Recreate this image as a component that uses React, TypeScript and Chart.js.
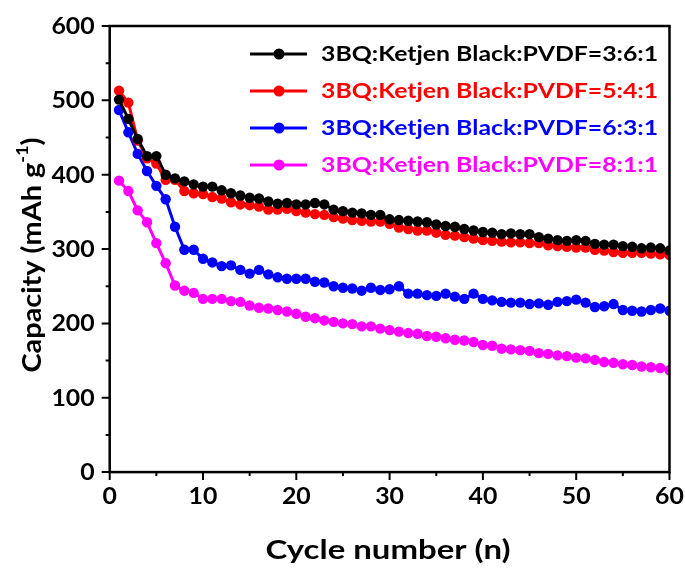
import React, { useEffect, useRef } from "react";
import { Chart, registerables } from "chart.js";

Chart.register(...registerables);

const cycles = [
  1, 2, 3, 4, 5, 6, 7, 8, 9, 10, 11, 12, 13, 14, 15, 16, 17, 18, 19, 20,
  21, 22, 23, 24, 25, 26, 27, 28, 29, 30, 31, 32, 33, 34, 35, 36, 37, 38, 39, 40,
  41, 42, 43, 44, 45, 46, 47, 48, 49, 50, 51, 52, 53, 54, 55, 56, 57, 58, 59, 60,
];

const series361 = [
  501, 475, 448, 425, 425, 400, 395, 391, 387, 384, 384, 379, 375, 372, 369, 368, 364, 361, 362, 360,
  360, 362, 360, 353, 351, 349, 348, 346, 346, 340, 339, 338, 337, 336, 333, 331, 330, 327, 325, 323,
  322, 320, 321, 320, 320, 316, 314, 312, 311, 312, 311, 307, 306, 306, 304, 303, 301, 302, 301, 298,
];

const series541 = [
  513, 497, 446, 422, 415, 393, 393, 378, 375, 374, 370, 368, 363, 360, 359, 357, 353, 353, 354, 351,
  349, 347, 346, 343, 341, 339, 338, 337, 337, 334, 329, 327, 325, 325, 322, 319, 318, 316, 314, 312,
  311, 310, 309, 309, 308, 308, 305, 304, 303, 302, 302, 299, 298, 296, 295, 295, 295, 294, 293, 292,
];

const series631 = [
  487, 457, 428, 405, 385, 367, 330, 299, 299, 287, 282, 277, 278, 272, 267, 272, 266, 262, 260, 260,
  260, 256, 255, 250, 248, 247, 244, 248, 245, 246, 250, 240, 240, 238, 237, 240, 236, 233, 240, 233,
  231, 229, 228, 228, 226, 227, 225, 229, 230, 232, 228, 222, 223, 226, 218, 217, 216, 218, 220, 217,
];

const series811 = [
  392, 378, 352, 336, 308, 281, 251, 244, 241, 233, 233, 233, 230, 229, 224, 221, 220, 218, 216, 213,
  209, 207, 204, 202, 200, 199, 196, 196, 193, 191, 189, 187, 186, 183, 182, 180, 178, 177, 175, 171,
  170, 166, 165, 164, 163, 160, 159, 157, 156, 154, 153, 151, 148, 147, 145, 144, 142, 141, 140, 137,
];

const seriesLabels = [
  "3BQ:Ketjen Black:PVDF=3:6:1",
  "3BQ:Ketjen Black:PVDF=5:4:1",
  "3BQ:Ketjen Black:PVDF=6:3:1",
  "3BQ:Ketjen Black:PVDF=8:1:1",
];
const seriesColors = ["#000000", "#ff0000", "#0000ff", "#ff00ff"];
const allSeries = [series361, series541, series631, series811];

const xMajorTicks = [0, 10, 20, 30, 40, 50, 60];
const xMinorTicks = [5, 15, 25, 35, 45, 55];
const yMajorTicks = [0, 100, 200, 300, 400, 500, 600];
const yMinorTicks = [50, 150, 250, 350, 450, 550];
const xTickLabels = ["0", "10", "20", "30", "40", "50", "60"];
const yTickLabels = ["0", "100", "200", "300", "400", "500", "600"];

const xTitle = "Cycle number (n)";
const yTitleMain = "Capacity (mAh g";
const yTitleSup = "-1";
const yTitleEnd = ")";

const FONT = "Lato, 'Open Sans', sans-serif";

function stretchedText(
  ctx: CanvasRenderingContext2D,
  text: string,
  x: number,
  y: number,
  sx: number,
  align: "left" | "center" | "right"
) {
  const w = ctx.measureText(text).width * sx;
  const left = align === "center" ? x - w / 2 : align === "right" ? x - w : x;
  ctx.save();
  ctx.translate(left, y);
  ctx.scale(sx, 1);
  ctx.textAlign = "left";
  ctx.fillText(text, 0, 0);
  ctx.restore();
}

const decorPlugin = {
  id: "decor",
  afterDraw(chart: any) {
    const { ctx, chartArea: a, scales } = chart;
    const xs = scales.x;
    const ys = scales.y;
    ctx.save();
    ctx.strokeStyle = "#000";
    ctx.lineWidth = 2.5;
    ctx.strokeRect(a.left, a.top, a.right - a.left, a.bottom - a.top);

    ctx.lineWidth = 2;
    ctx.beginPath();
    for (const v of xMajorTicks) {
      const p = xs.getPixelForValue(v);
      ctx.moveTo(p, a.bottom);
      ctx.lineTo(p, a.bottom + 8);
    }
    for (const v of xMinorTicks) {
      const p = xs.getPixelForValue(v);
      ctx.moveTo(p, a.bottom);
      ctx.lineTo(p, a.bottom + 4);
    }
    for (const v of yMajorTicks) {
      const p = ys.getPixelForValue(v);
      ctx.moveTo(a.left, p);
      ctx.lineTo(a.left - 8, p);
    }
    for (const v of yMinorTicks) {
      const p = ys.getPixelForValue(v);
      ctx.moveTo(a.left, p);
      ctx.lineTo(a.left - 4, p);
    }
    ctx.stroke();

    // tick labels
    ctx.fillStyle = "#000";
    ctx.font = `bold 22px ${FONT}`;
    ctx.textBaseline = "middle";
    xMajorTicks.forEach((v, i) => {
      stretchedText(ctx, xTickLabels[i], xs.getPixelForValue(v), a.bottom + 25, 1.13, "center");
    });
    yMajorTicks.forEach((v, i) => {
      stretchedText(ctx, yTickLabels[i], a.left - 15, ys.getPixelForValue(v) + 1, 1.13, "right");
    });

    // legend
    const rowY = [54, 91, 128, 165];
    ctx.font = `bold 20px ${FONT}`;
    ctx.textBaseline = "middle";
    seriesLabels.forEach((lab, i) => {
      const yy = rowY[i];
      ctx.strokeStyle = seriesColors[i];
      ctx.fillStyle = seriesColors[i];
      ctx.lineWidth = 3;
      ctx.beginPath();
      ctx.moveTo(250, yy);
      ctx.lineTo(307, yy);
      ctx.stroke();
      ctx.beginPath();
      ctx.arc(279, yy, 5.5, 0, Math.PI * 2);
      ctx.fill();
      stretchedText(ctx, lab, 321, yy + 1, 1.24, "left");
    });

    // x title
    ctx.fillStyle = "#000";
    ctx.font = `bold 27px ${FONT}`;
    ctx.textBaseline = "middle";
    stretchedText(ctx, xTitle, 388, 550, 1.22, "center");

    // y title
    ctx.translate(32, 255);
    ctx.rotate(-Math.PI / 2);
    ctx.scale(1.07, 1);
    const mainFont = `bold 27px ${FONT}`;
    const supFont = `bold 17px ${FONT}`;
    ctx.font = mainFont;
    const w1 = ctx.measureText(yTitleMain).width;
    const w3 = ctx.measureText(yTitleEnd).width;
    ctx.font = supFont;
    const w2 = ctx.measureText(yTitleSup).width;
    const total = w1 + w2 + w3;
    let cx = -total / 2;
    ctx.textAlign = "left";
    ctx.font = mainFont;
    ctx.fillText(yTitleMain, cx, 0);
    cx += w1;
    ctx.font = supFont;
    ctx.fillText(yTitleSup, cx, -9);
    cx += w2;
    ctx.font = mainFont;
    ctx.fillText(yTitleEnd, cx, 0);
    ctx.restore();
  },
};

export default function App() {
  const ref = useRef<HTMLCanvasElement | null>(null);
  useEffect(() => {
    document.body.style.margin = "0";
    const canvas = ref.current;
    if (!canvas) return;
    const chart = new Chart(canvas, {
      type: "line",
      data: {
        datasets: allSeries.map((vals, i) => ({
          label: seriesLabels[i],
          data: cycles.map((c, j) => ({ x: c, y: vals[j] })),
          borderColor: seriesColors[i],
          backgroundColor: seriesColors[i],
          pointBackgroundColor: seriesColors[i],
          pointBorderColor: seriesColors[i],
          pointRadius: 5.2,
          pointBorderWidth: 0,
          borderWidth: 3,
          tension: 0,
          clip: 0,
          order: i + 1,
        })),
      },
      options: {
        responsive: false,
        animation: false,
        events: [],
        layout: { padding: { top: 26, right: 15.5, left: 0, bottom: 0 } },
        plugins: { legend: { display: false }, tooltip: { enabled: false } },
        scales: {
          x: {
            type: "linear",
            min: 0,
            max: 60,
            border: { display: false },
            grid: { display: false, drawTicks: false },
            ticks: { display: false, stepSize: 10 },
            afterFit(scale: any) {
              scale.height = 99.9;
            },
          },
          y: {
            min: 0,
            max: 600,
            border: { display: false },
            grid: { display: false, drawTicks: false },
            ticks: { display: false, stepSize: 100 },
            afterFit(scale: any) {
              scale.width = 109.7;
            },
          },
        },
      },
      plugins: [decorPlugin],
    });
    return () => chart.destroy();
  }, []);
  return <canvas ref={ref} width={685} height={572} style={{ display: "block" }} />;
}
